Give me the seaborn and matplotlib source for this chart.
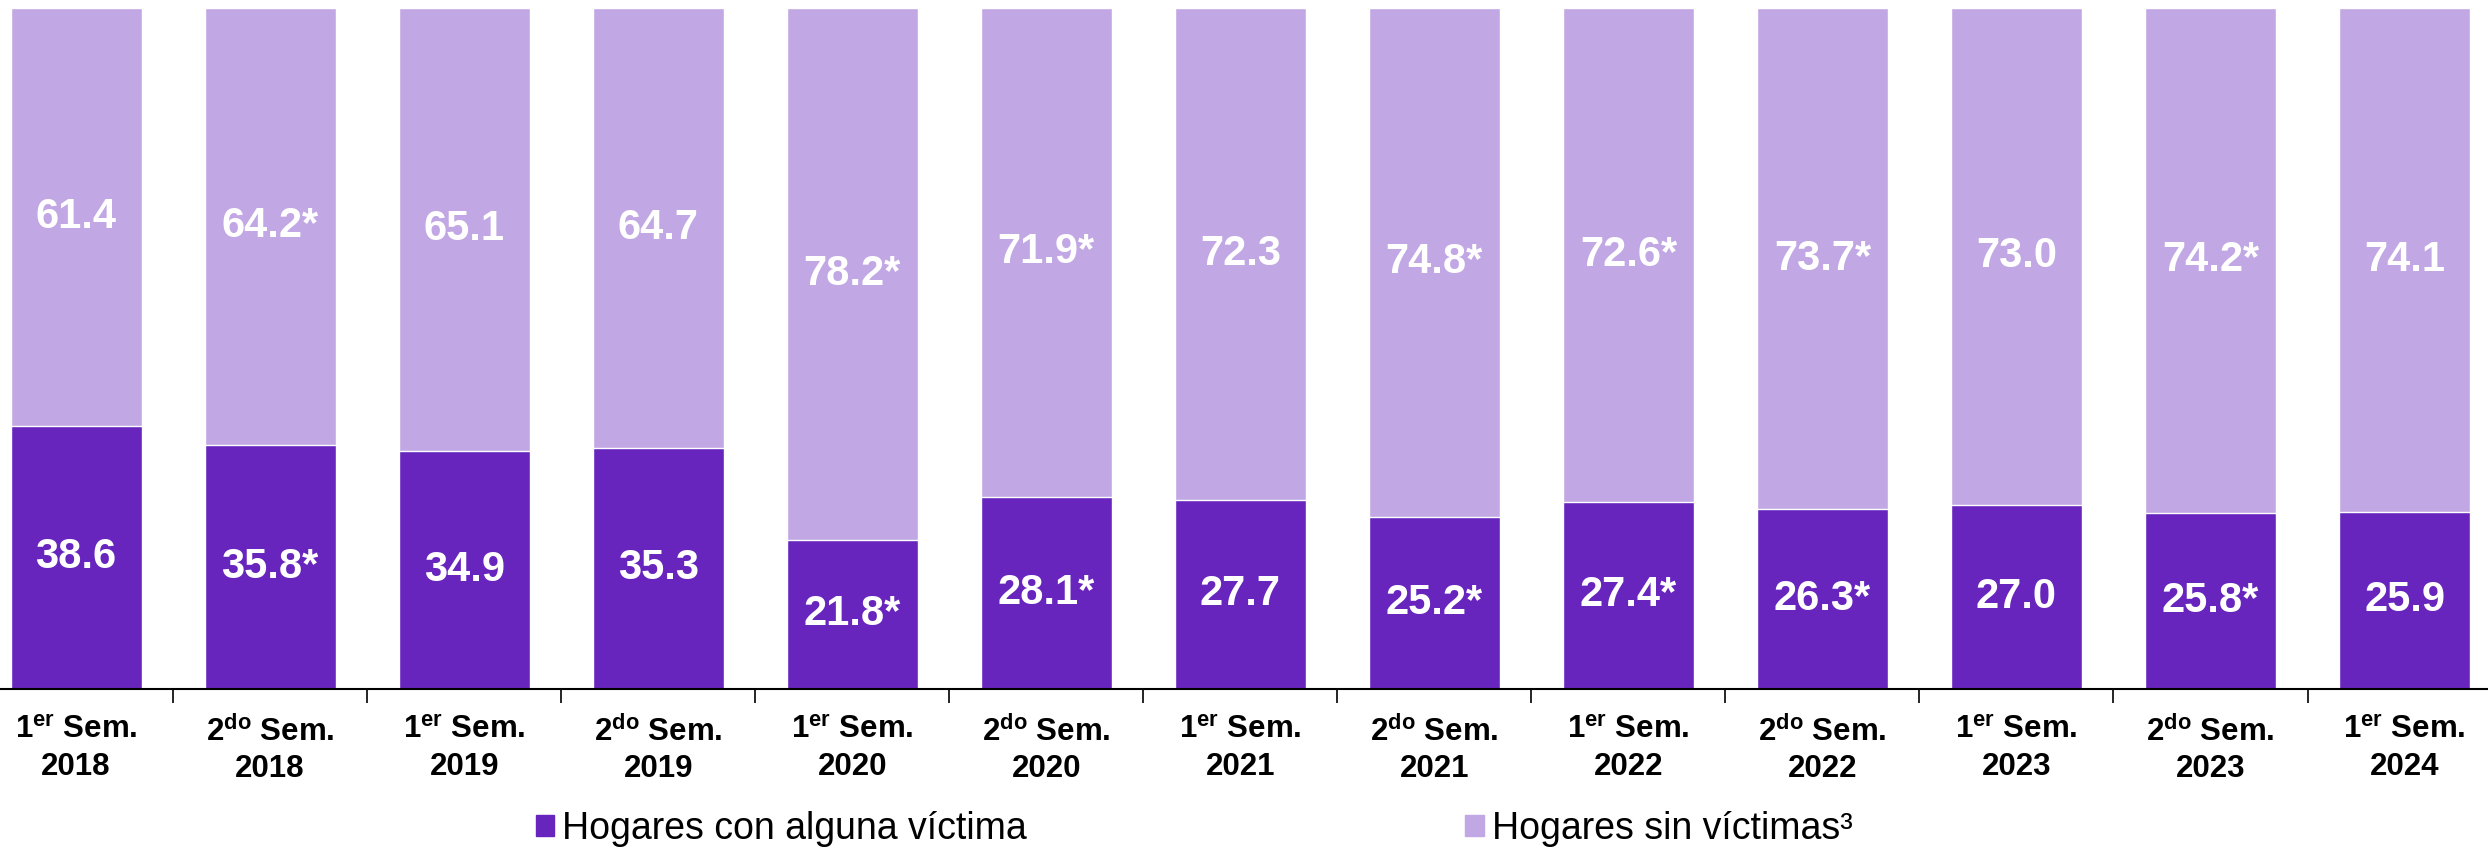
import numpy as np
import pandas as pd
import seaborn as sns
import matplotlib
matplotlib.use('Agg')
import matplotlib.pyplot as plt
from matplotlib.ticker import FixedLocator
from matplotlib.patches import Patch

# data
periodos = ['1er Sem. 2018', '2do Sem. 2018', '1er Sem. 2019', '2do Sem. 2019',
            '1er Sem. 2020', '2do Sem. 2020', '1er Sem. 2021', '2do Sem. 2021',
            '1er Sem. 2022', '2do Sem. 2022', '1er Sem. 2023', '2do Sem. 2023',
            '1er Sem. 2024']
con_victima = [38.6, 35.8, 34.9, 35.3, 21.8, 28.1, 27.7, 25.2, 27.4, 26.3, 27.0, 25.8, 25.9]
sin_victima = [61.4, 64.2, 65.1, 64.7, 78.2, 71.9, 72.3, 74.8, 72.6, 73.7, 73.0, 74.2, 74.1]
significativo = [False, True, False, False, True, True, False, True, True, True, False, True, False]

tick_labels = []
for p in periodos:
    num, suf, sem, anio = p[0], p[1:-10], 'Sem.', p[-4:]
    tick_labels.append(num + r'$^{\mathbf{' + suf + '}}$ ' + sem + '\n' + anio)

c_dark = '#6725BE'
c_light = '#C1A7E3'

sns.set_theme(style='white')
plt.rcParams['font.family'] = ['Liberation Sans', 'DejaVu Sans']
plt.rcParams['mathtext.fontset'] = 'custom'
plt.rcParams['mathtext.bf'] = 'Liberation Sans:bold'
plt.rcParams['mathtext.rm'] = 'Liberation Sans'
plt.rcParams['text.color'] = 'black'
plt.rcParams['xtick.color'] = 'black'

df = pd.DataFrame({'periodo': periodos,
                   'con': con_victima,
                   'sin': sin_victima})
df['total'] = df['con'] + df['sin']

fig = plt.figure(figsize=(24.88, 8.5), dpi=100)
ax = fig.add_axes([0, 0.19, 1, 0.801])

sns.barplot(data=df, x='periodo', y='total', color=c_light, width=0.675,
            saturation=1, ax=ax)
sns.barplot(data=df, x='periodo', y='con', color=c_dark, width=0.675,
            saturation=1, ax=ax)

for i in range(len(periodos)):
    star = '*' if significativo[i] else ''
    ax.text(i, con_victima[i] / 2, f'{con_victima[i]:.1f}{star}', ha='center',
            va='center', color='white', fontsize=30, fontweight='bold',
            family='Liberation Sans')
    ax.text(i, con_victima[i] + sin_victima[i] / 2, f'{sin_victima[i]:.1f}{star}',
            ha='center', va='center', color='white', fontsize=30,
            fontweight='bold', family='Liberation Sans')

ax.set_xlim(-0.392, 12.43)
ax.set_ylim(0, 100)
ax.set_xlabel('')
ax.set_ylabel('')
ax.set_yticks([])
ax.set_xticks(range(len(periodos)))
ax.set_xticklabels(tick_labels, fontsize=22.5, fontweight='bold', linespacing=1.25,
                   color='black')
ax.xaxis.set_minor_locator(FixedLocator(np.arange(0.5, len(periodos) - 1, 1)))
ax.tick_params(axis='x', which='major', length=0, pad=20)
ax.tick_params(axis='x', which='minor', length=10, width=1.2, color='black',
               bottom=True, direction='out')
for s in ['top', 'left', 'right']:
    ax.spines[s].set_visible(False)
ax.spines['bottom'].set_color('black')
ax.spines['bottom'].set_linewidth(1.5)

handles = [Patch(color=c_dark, label='Hogares con alguna víctima'),
           Patch(color=c_light, label='Hogares sin víctimas³')]
leg = fig.legend(handles=handles, loc='center left', bbox_to_anchor=(0.2153, 0.025),
                 ncol=2, frameon=False, fontsize=27, handlelength=0.5,
                 handleheight=0.5, handletextpad=0.2, columnspacing=11.7,
                 borderpad=0, borderaxespad=0)
for t in leg.get_texts():
    t.set_color('black')

fig.savefig('out.png', dpi=100)
